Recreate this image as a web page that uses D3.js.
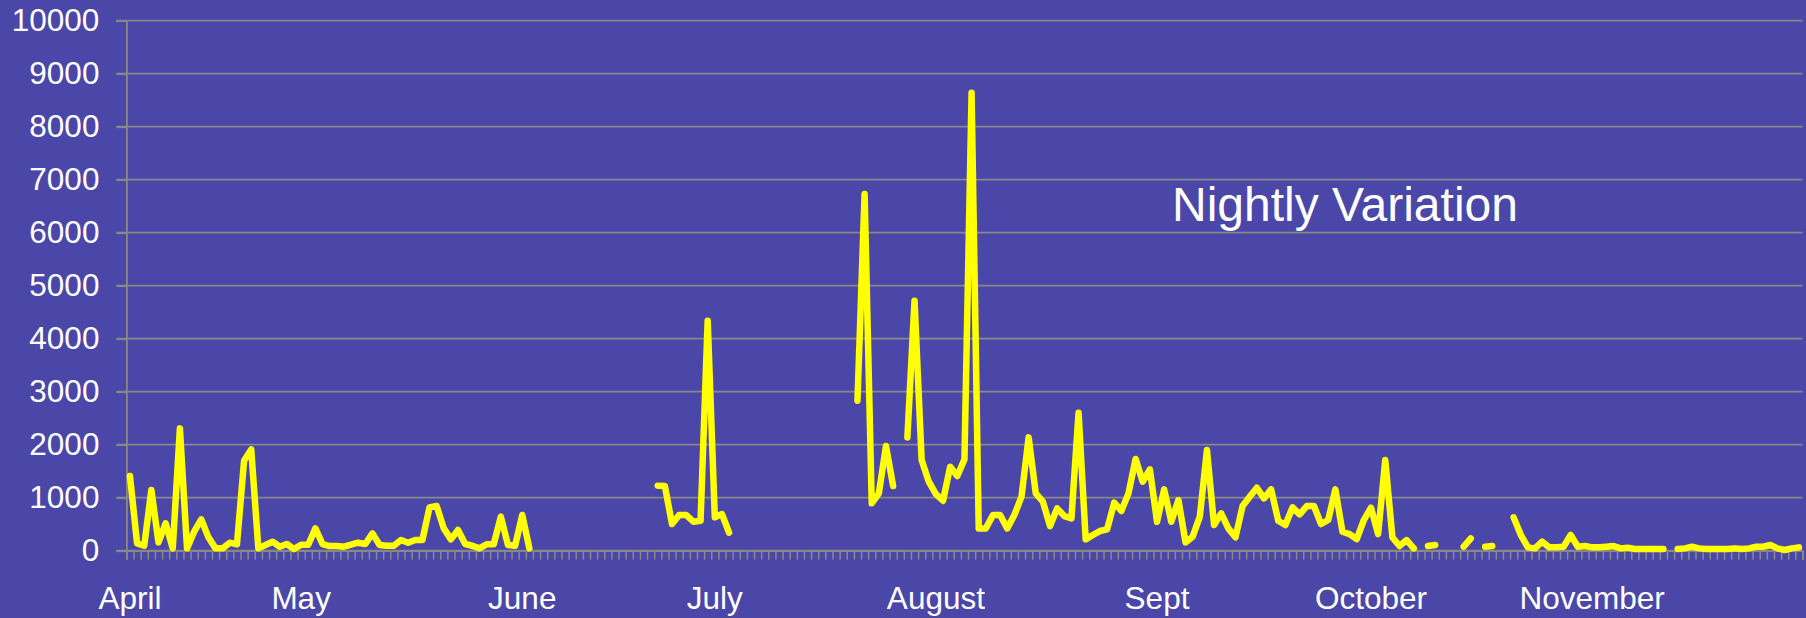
<!DOCTYPE html>
<html>
<head>
<meta charset="utf-8">
<script src="https://cdnjs.cloudflare.com/ajax/libs/d3/7.8.5/d3.min.js"></script>
<style>
  html, body { margin: 0; padding: 0; background: #4b47a8; }
  svg { display: block; }
</style>
</head>
<body>
<div id="chart"></div>
<script>
// Nightly counts, one value per category (null = no data that night)
var nightly = [
  // 0 - 56
  1409, 138, 94, 1145, 157, 516, 44, 2308, 44, 358, 591, 252, 44, 44, 151, 120,
  1698, 1912, 44, 107, 170, 75, 126, 31, 113, 113, 421, 126, 88, 88, 75, 113,
  151, 126, 327, 107, 94, 94, 201, 151, 201, 201, 818, 843, 421, 214, 390, 126,
  94, 44, 120, 120, 642, 107, 94, 673, 44,
  // 57 - 73
  null, null, null, null, null, null, null, null, null, null, null, null, null,
  null, null, null, null,
  // 74 - 84
  1226, 1220, 503, 673, 673, 547, 566, 4340, 629, 692, 340,
  // 85 - 101
  null, null, null, null, null, null, null, null, null, null, null, null, null,
  null, null, null, null,
  // 102 - 108
  2830, 6730, 893, 1082, 1975, 1220, null,
  // 109 - 180
  2138, 4717, 1711, 1302, 1069, 943, 1585, 1409, 1723, 8641, 421, 421, 673, 673,
  421, 673, 1019, 2138, 1082, 925, 465, 799, 654, 610, 2604, 214, 296, 371, 402,
  906, 750, 1082, 1730, 1302, 1535, 547, 1157, 547, 956, 157, 264, 642, 1899, 484,
  704, 421, 252, 843, 1019, 1189, 987, 1157, 566, 484, 818, 686, 843, 843, 503,
  579, 1157, 358, 314, 220, 579, 811, 314, 1711, 252, 88, 200, 44,
  // 181 - 193
  null, 88, 107, null, null, null, 75, 233, null, 75, 88, null, null,
  // 194 - 234
  629, 300, 63, 44, 170, 63, 63, 75, 296, 75, 88, 63, 63, 75, 88, 44, 57, 31,
  31, 31, 31, 31, null, 31, 44, 75, 44, 31, 31, 31, 31, 44, 31, 44, 75, 75, 107,
  44, 13, 44, 63
];

// Month labels and the category they sit under
var monthNames = ["April", "May", "June", "July", "August", "Sept", "October", "November"];
var monthIndex = [0, 24, 55, 82, 113, 144, 174, 205];

var yTicks = d3.range(0, 10001, 1000);
var chartTitle = "Nightly Variation";

// Dimensions
var W = 1806, H = 618;
var margin = { top: 20.7, right: 3.5, bottom: 67.3, left: 126.4 };
var width = W - margin.left - margin.right;
var height = H - margin.top - margin.bottom;

var svg = d3
  .select("#chart")
  .append("svg")
  .attr("width", W)
  .attr("height", H);

svg.append("rect").attr("width", W).attr("height", H).attr("fill", "#4b47a8");

var g = svg
  .append("g")
  .attr("transform", "translate(" + margin.left + "," + margin.top + ")");

// Scales
var n = nightly.length;
var x = d3.scaleBand().domain(d3.range(n)).range([0, width]).padding(0);
var xEdge = d3.scaleLinear().domain([0, n]).range([0, width]);
var y = d3.scaleLinear().domain([0, 10000]).range([height, 0]);

var font = "'Liberation Sans', Arial, Helvetica, sans-serif";

// Gridlines
g.append("g")
  .selectAll("line")
  .data(yTicks)
  .enter()
  .append("line")
  .attr("x1", -10)
  .attr("x2", width)
  .attr("y1", function (d) { return y(d); })
  .attr("y2", function (d) { return y(d); })
  .attr("stroke", "#888888")
  .attr("stroke-width", 1.8);

// Y axis
var yAxis = g.append("g").call(
  d3.axisLeft(y).tickValues(yTicks).tickSize(10).tickPadding(17).tickFormat(d3.format("d"))
);
yAxis.select(".domain").attr("stroke", "#888888").attr("stroke-width", 1.8);
yAxis.selectAll(".tick line").attr("stroke", "#888888").attr("stroke-width", 1.8);
yAxis
  .selectAll("text")
  .attr("fill", "#ffffff")
  .style("font-family", font)
  .style("font-size", "31.5px");

// X axis: one tick per category boundary
var xAxis = g
  .append("g")
  .attr("transform", "translate(0," + height + ")")
  .call(d3.axisBottom(xEdge).tickValues(d3.range(n + 1)).tickSize(9).tickFormat(""));
xAxis.select(".domain").attr("stroke", "#888888").attr("stroke-width", 1.8);
xAxis.selectAll(".tick line").attr("stroke", "#888888").attr("stroke-width", 1.5);

// Month labels
g.append("g")
  .selectAll("text")
  .data(monthNames)
  .enter()
  .append("text")
  .attr("x", function (d, i) { return x(monthIndex[i]) + x.bandwidth() / 2; })
  .attr("y", height + 58)
  .attr("text-anchor", "middle")
  .attr("fill", "#ffffff")
  .style("font-family", font)
  .style("font-size", "31.5px")
  .text(function (d) { return d; });

// The nightly line
var line = d3
  .line()
  .defined(function (d) { return d !== null; })
  .x(function (d, i) { return x(i) + x.bandwidth() / 2; })
  .y(function (d) { return y(d); });

g.append("path")
  .datum(nightly)
  .attr("fill", "none")
  .attr("stroke", "#ffff00")
  .attr("stroke-width", 6.5)
  .attr("stroke-linejoin", "round")
  .attr("stroke-linecap", "round")
  .attr("d", line);

// Title inside the plot
svg.append("text")
  .attr("x", 1172)
  .attr("y", 221)
  .attr("fill", "#ffffff")
  .style("font-family", font)
  .style("font-size", "48px")
  .text(chartTitle);
</script>
</body>
</html>
